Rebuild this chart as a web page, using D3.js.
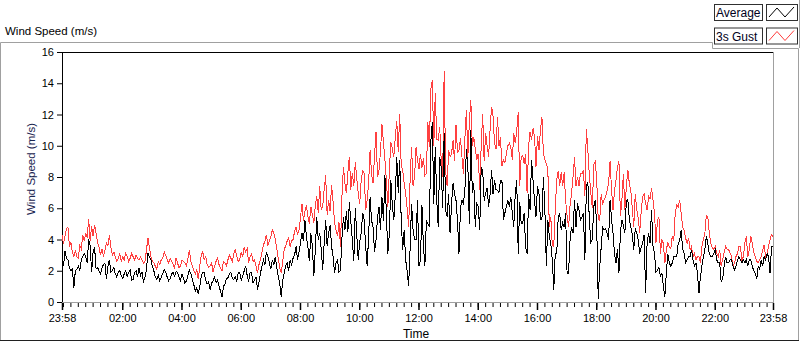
<!DOCTYPE html>
<html>
<head>
<meta charset="utf-8">
<script src="https://cdn.jsdelivr.net/npm/d3@7"></script>
<style>
  html, body { margin: 0; padding: 0; background: #fff; }
  svg { display: block; font-family: "Liberation Sans", Arial, sans-serif; }
</style>
</head>
<body>
<svg id="chart" width="800" height="342"></svg>
<script>
// ---- data ----
const chartTitle = "Wind Speed (m/s)";
const yAxisTitle = "Wind Speed (m/s)";
const xAxisTitle = "Time";
const seriesNames = ["Average", "3s Gust"];
const startTime = "2024-01-01T23:58";
const endTime = "2024-01-02T23:58";
const stepMinutes = 3;
const yTicks = [0, 2, 4, 6, 8, 10, 12, 14, 16];
const xTickLabels = ["23:58", "02:00", "04:00", "06:00", "08:00", "10:00", "12:00",
                     "14:00", "16:00", "18:00", "20:00", "22:00", "23:58"];

const gustSpeed = [
  4.3,3.7, 4.2,4.7, 4.8,3.6, 3.8,3.2, 2.9,3.3, 2.9,2.8, 3.6,3.4, 4.3,3.9, 4.4,4.1, 5.3,3.9,
  4.85,4.2, 4.95,4.4, 3.8,3.5, 3.0,3.4, 2.9,3.3, 3.8,3.6, 4.3,3.5, 3.0,3.2, 2.9,2.6, 2.8,3.1,
  2.6,2.9, 2.7,3.1, 2.9,2.6, 2.8,3.1, 2.9,2.7, 3.0,2.8, 2.7,2.9, 2.7,2.5, 2.6,3.3, 4.1,3.5,
  2.9,2.6, 2.5,2.3, 2.1,2.6, 2.4,2.7, 2.8,3.2, 3.0,2.7, 2.5,2.8, 2.6,2.4, 2.2,2.8, 2.5,2.2,
  2.3,2.7, 2.6,2.5, 2.3,2.8, 3.3,2.6, 2.3,2.0, 1.8,2.1, 1.45,2.3, 3.0,3.2, 2.7,2.9, 2.4,2.2,
  2.3,2.5, 1.9,2.3, 2.6,2.8, 2.4,2.2, 2.0,2.6, 2.5,2.3, 2.7,3.0, 2.8,2.6, 3.1,3.4, 2.9,2.6,
  2.7,3.2, 2.9,3.5, 3.2,3.4, 2.5,2.9, 3.1,2.6, 2.7,2.3, 1.85,2.4, 2.7,3.2, 3.65,3.9, 4.3,3.6,
  3.9,4.2, 4.6,4.4, 4.0,3.4, 2.8,2.2, 1.85,2.6, 3.35,3.6, 3.9,4.1, 3.55,3.9, 4.0,4.5, 4.8,4.3,
  4.6,5.4, 6.3,5.2, 5.8,6.2, 5.45,5.0, 6.1,5.6, 5.05,6.2, 6.75,5.7, 7.4,5.9, 6.1,7.2, 8.1,5.6,
  6.5,5.8, 7.5,6.4, 5.05,4.6, 4.2,5.1, 3.55,6.8, 8.65,7.6, 6.95,8.3, 9.3,7.2, 8.25,7.4, 8.95,7.9,
  6.95,6.3, 7.8,8.4, 8.25,5.9, 6.5,7.6, 9.7,8.2, 7.6,9.4, 10.9,8.0, 8.45,9.6, 11.4,10.2, 9.1,7.8,
  6.1,8.4, 10.25,9.8, 9.3,10.5, 11.6,9.6, 12.05,8.7, 8.45,7.6, 6.95,6.0, 4.8,7.8, 9.95,7.4, 8.0,9.9,
  9.1,8.5, 9.5,8.6, 9.2,8.1, 8.25,11.5, 9.9,13.6, 14.2,10.0, 13.35,10.4, 10.35,11.2, 9.1,8.0, 14.8,8.4,
  7.4,9.7, 9.3,9.5, 10.35,9.0, 11.3,9.6, 9.7,10.5, 9.3,8.2, 10.45,12.3, 9.3,11.5, 12.9,10.0, 10.55,9.8,
  9.1,9.5, 7.15,10.0, 12.05,9.0, 10.8,10.0, 9.3,11.0, 12.5,11.9, 10.15,9.8, 11.85,10.0, 10.55,8.7, 9.1,8.9,
  9.5,10.0, 10.15,9.9, 9.1,10.8, 10.15,11.0, 12.15,7.4, 9.3,9.4, 8.85,9.5, 6.95,10.0, 10.9,10.4, 11.1,10.6,
  8.65,10.6, 9.7,11.0, 11.85,9.5, 9.1,8.85, 8.45,4.8, 5.45,3.6, 3.55,6.0, 7.8,8.4, 7.4,8.3, 7.4,8.3,
  6.5,5.5, 4.8,6.2, 6.95,8.0, 9.3,7.4, 8.0,7.4, 8.25,8.2, 8.45,6.8, 11.1,9.7, 8.1,7.0, 6.0,8.8,
  9.0,7.8, 5.3,5.2, 6.9,6.3, 6.55,6.7, 7.15,7.6, 9.0,7.2, 5.9,7.1, 7.8,8.6, 9.0,5.5, 6.55,8.2,
  5.9,7.4, 8.45,7.6, 7.15,6.0, 4.8,6.9, 5.9,5.4, 4.4,5.8, 6.75,6.9, 6.3,5.9, 6.75,6.6, 7.3,6.5,
  5.7,3.8, 5.25,5.4, 3.1,4.0, 3.75,2.5, 3.35,3.8, 3.55,3.4, 4.2,3.9, 5.7,6.2, 6.1,6.5, 5.7,4.8,
  4.6,4.1, 3.75,4.1, 3.35,3.55, 2.9,3.1, 2.7,2.9, 2.9,2.5, 3.55,4.0, 4.4,5.55, 5.45,4.4, 3.75,3.5,
  3.35,3.55, 3.1,2.9, 3.35,2.3, 2.7,3.2, 3.55,3.4, 3.35,3.15, 2.9,2.3, 2.5,2.9, 3.1,3.55, 3.55,2.7,
  2.9,3.8, 4.2,2.9, 3.35,4.2, 3.75,3.2, 2.9,2.6, 2.5,2.7, 2.9,3.3, 3.65,2.9, 3.1,3.6, 4.0,4.3,
  4.2
];

const avgSpeed = [
  2.9,2.3, 3.25,2.8, 2.7,2.2, 2.0,2.1, 0.9,2.0, 2.1,2.3, 2.0,2.7, 2.9,3.1, 2.9,2.5, 4.0,3.6,
  1.9,3.2, 3.5,2.1, 2.2,2.0, 1.8,2.2, 2.4,2.5, 1.45,2.3, 2.7,1.9, 2.0,2.2, 1.8,1.6, 1.9,2.0,
  1.7,1.5, 1.8,2.0, 1.65,1.9, 2.05,1.4, 1.45,1.9, 2.0,1.6, 2.2,1.7, 1.9,1.3, 1.55,2.1, 3.15,2.9,
  2.7,2.3, 2.0,1.6, 1.45,1.7, 1.35,1.6, 1.8,2.1, 1.9,1.6, 1.35,1.5, 1.8,1.9, 1.65,1.95, 1.9,1.6,
  1.35,1.8, 1.5,1.2, 1.35,1.7, 2.05,1.8, 1.45,1.1, 0.7,0.9, 0.5,1.0, 1.65,1.9, 1.9,1.4, 1.15,1.3,
  0.8,1.2, 1.35,1.6, 1.25,1.4, 1.0,0.7, 0.3,1.0, 1.15,1.5, 1.55,1.8, 1.9,1.5, 1.45,1.6, 1.35,1.9,
  1.9,1.4, 1.65,2.0, 2.3,1.7, 1.3,1.9, 1.85,1.2, 1.4,1.6, 0.8,1.3, 1.85,2.3, 2.7,2.4, 3.2,2.9,
  2.5,2.1, 2.7,2.4, 2.9,2.2, 1.65,1.2, 0.35,1.4, 1.85,2.3, 2.5,2.0, 2.7,2.4, 2.8,3.0, 3.55,2.7,
  3.2,3.8, 4.4,3.9, 5.25,4.2, 3.55,2.6, 4.4,3.6, 1.65,3.3, 5.45,4.0, 4.4,3.4, 2.05,3.8, 5.25,3.6,
  4.4,4.9, 3.55,2.9, 1.85,2.5, 2.7,1.9, 2.05,4.1, 5.45,4.6, 5.8,4.5, 6.4,5.1, 4.0,2.6, 6.0,4.3,
  2.7,3.9, 4.4,5.7, 5.25,3.6, 2.3,4.2, 6.75,5.2, 4.8,3.2, 4.0,5.4, 6.1,4.6, 6.75,5.2, 8.1,5.6,
  3.1,4.4, 7.8,6.2, 5.25,6.8, 9.3,7.0, 9.1,5.2, 3.35,4.6, 2.7,2.0, 1.0,3.4, 6.3,4.6, 4.0,4.0,
  6.5,2.3, 2.7,6.2, 3.55,2.3, 5.25,5.0, 4.8,10.3, 11.5,6.3, 9.9,6.5, 4.8,9.3, 8.65,6.0, 10.8,5.9,
  5.45,6.9, 4.4,6.3, 7.6,6.9, 6.5,5.2, 3.1,6.0, 6.5,6.3, 7.15,9.8, 8.65,5.0, 11.0,7.0, 7.6,4.8,
  6.3,6.1, 4.6,8.6, 8.45,6.5, 6.95,7.3, 6.1,6.9, 8.45,6.9, 7.8,7.2, 7.15,7.0, 7.8,7.8, 5.25,5.7,
  6.1,6.5, 6.1,6.7, 5.7,4.8, 6.95,7.8, 3.1,6.4, 5.05,5.0, 5.7,3.5, 3.1,6.9, 5.9,9.1, 7.8,6.5,
  5.45,7.4, 6.95,5.25, 5.25,8.0, 5.9,2.3, 5.25,4.2, 3.75,2.7, 0.8,3.1, 3.1,5.45, 5.7,4.6, 5.05,4.8,
  5.7,1.8, 1.85,4.0, 4.8,4.4, 6.5,4.8, 6.3,5.9, 5.25,5.4, 5.7,2.7, 7.4,7.7, 5.3,3.8, 4.0,6.1,
  6.55,4.8, 0.2,2.2, 3.5,4.8, 4.6,4.7, 4.4,4.0, 6.55,5.3, 4.4,3.1, 2.5,3.4, 1.85,4.5, 5.25,4.9,
  4.4,6.5, 6.55,5.3, 4.8,4.3, 3.35,4.7, 4.4,4.0, 3.1,3.5, 3.75,4.3, 0.55,3.8, 4.4,3.75, 5.9,3.55,
  3.1,1.9, 2.05,2.2, 1.65,1.85, 1.0,0.35, 1.85,3.1, 2.5,2.3, 2.5,2.9, 2.9,2.9, 3.75,3.95, 4.6,3.4,
  3.1,2.5, 2.7,2.9, 2.9,3.35, 2.7,2.3, 2.5,1.85, 0.55,1.6, 2.3,2.9, 3.35,4.2, 3.75,3.1, 2.9,2.9,
  3.1,3.35, 2.7,2.5, 2.5,1.3, 1.45,2.3, 2.9,2.5, 2.5,2.7, 2.7,2.3, 2.05,2.3, 2.7,2.9, 2.7,2.5,
  2.7,2.5, 2.7,2.3, 2.7,2.7, 2.3,2.0, 1.85,1.45, 2.3,2.1, 2.7,2.3, 2.9,2.7, 3.1,2.9, 1.85,3.55,
  3.55
];

// ---- layout ----
const W = 800, H = 342;
const plot = { left: 62, right: 773, top: 52, bottom: 302 };
const svg = d3.select("#chart");

const parse = d3.timeParse("%Y-%m-%dT%H:%M");
const t0 = parse(startTime), t1 = parse(endTime);
const x = d3.scaleTime().domain([t0, t1]).range([plot.left, plot.right]);
const y = d3.scaleLinear().domain([0, 16]).range([plot.bottom, plot.top]);

// frame
svg.append("rect").attr("x", 0).attr("y", 0).attr("width", W).attr("height", H).attr("fill", "#fff");
svg.append("path")
  .attr("d", "M0.5,340.5 L0.5,42.5 L712.5,42.5 L712.5,48.5 L798.5,48.5 L798.5,340.5")
  .attr("fill", "none").attr("stroke", "#a0a0a0");
svg.append("line").attr("x1", 0).attr("x2", 799).attr("y1", 340.5).attr("y2", 340.5).attr("stroke", "#202020");
svg.append("line").attr("x1", 799.5).attr("x2", 799.5).attr("y1", 0).attr("y2", 48).attr("stroke", "#a0a0a0");

// title
svg.append("text").attr("x", 5).attr("y", 35).attr("font-size", 11.5).attr("fill", "#000").text(chartTitle);

// legend
const legendColors = ["#000000", "#ff3c3c"];
seriesNames.forEach((name, i) => {
  const yy = 4 + i * 23.5;
  svg.append("rect").attr("x", 714.5).attr("y", yy + 0.5).attr("width", 48).attr("height", 16)
    .attr("fill", "#fff").attr("stroke", "#303030");
  svg.append("text").attr("x", 716).attr("y", yy + 13).attr("font-size", 12).attr("fill", "#000020").text(name);
  svg.append("rect").attr("x", 766.5).attr("y", yy + 0.5).attr("width", 31).attr("height", 16)
    .attr("fill", "#fff").attr("stroke", "#303030");
  svg.append("polyline")
    .attr("points", [[769, yy + 13], [777, yy + 4], [785, yy + 13], [794, yy + 3]].map(p => p.join(",")).join(" "))
    .attr("fill", "none").attr("stroke", legendColors[i]).attr("stroke-width", 1);
});

// plot borders
svg.append("line").attr("x1", plot.left).attr("x2", plot.right + 1).attr("y1", plot.top + 0.5).attr("y2", plot.top + 0.5).attr("stroke", "#000");
svg.append("line").attr("x1", plot.left + 0.5).attr("x2", plot.left + 0.5).attr("y1", plot.top).attr("y2", plot.bottom + 1).attr("stroke", "#000");
svg.append("line").attr("x1", plot.left).attr("x2", plot.right + 1).attr("y1", plot.bottom + 0.5).attr("y2", plot.bottom + 0.5).attr("stroke", "#a0a0a0");
svg.append("line").attr("x1", plot.right + 0.5).attr("x2", plot.right + 0.5).attr("y1", plot.top).attr("y2", plot.bottom + 1).attr("stroke", "#a0a0a0");

// series
const times = gustSpeed.map((_, i) => d3.timeMinute.offset(t0, i * stepMinutes));
const line = d3.line().x((d, i) => x(times[i])).y(d => y(d));
const g = svg.append("g").attr("shape-rendering", "crispEdges");
g.append("path").datum(gustSpeed).attr("d", line).attr("fill", "none")
  .attr("stroke", "#ff4040").attr("stroke-width", 1);
g.append("path").datum(avgSpeed).attr("d", line).attr("fill", "none")
  .attr("stroke", "#000").attr("stroke-width", 1);

// y axis
const yAxis = svg.append("g").attr("transform", `translate(${plot.left},0)`)
  .call(d3.axisLeft(y).tickValues(yTicks).tickSize(5).tickPadding(3));
yAxis.select(".domain").remove();
yAxis.selectAll("text").attr("font-size", 11).attr("font-family", "Liberation Sans, Arial, sans-serif").attr("fill", "#000");

// x axis minor ticks
const xMinor = svg.append("g").attr("transform", `translate(0,${plot.bottom + 1})`)
  .call(d3.axisBottom(x).ticks(d3.timeMinute.every(15)).tickSize(4).tickFormat(""));
xMinor.select(".domain").remove();

// x axis major ticks
const majorDates = xTickLabels.map((lab, k) => {
  if (k === 0) return t0;
  if (k === xTickLabels.length - 1) return t1;
  return parse("2024-01-02T" + lab);
});
const xMajor = svg.append("g").attr("transform", `translate(0,${plot.bottom + 1})`)
  .call(d3.axisBottom(x).tickValues(majorDates).tickSize(7).tickPadding(4)
    .tickFormat((d, i) => xTickLabels[i]));
xMajor.select(".domain").remove();
xMajor.selectAll("line").attr("stroke-width", 1.5);
xMajor.selectAll("text").attr("font-size", 11).attr("font-family", "Liberation Sans, Arial, sans-serif").attr("fill", "#000");

// axis titles
svg.append("text").attr("transform", "translate(35,169) rotate(-90)").attr("text-anchor", "middle")
  .attr("font-size", 11.5).attr("fill", "#1a2550").text(yAxisTitle);
svg.append("text").attr("x", 416).attr("y", 338).attr("text-anchor", "middle")
  .attr("font-size", 12).attr("fill", "#000").text(xAxisTitle);
</script>
</body>
</html>
